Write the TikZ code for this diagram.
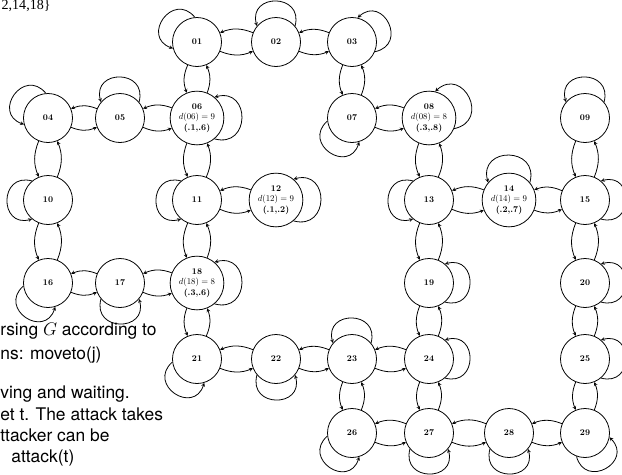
\documentclass[tikz,border=0pt]{standalone}
\usepackage{fontspec}
\newfontfamily\slidefont{TeX Gyre Heros}
\newfontfamily\setfont{Liberation Serif}

\begin{document}
\begin{tikzpicture}[
  x=0.04cm, y=-0.04cm,
  line width=0.9pt,
  >=stealth,
  state/.style={circle, draw, inner sep=3pt, minimum size=1.96cm, font=\bfseries, align=center},
  move/.style={->, bend right=22},
  stay/.style={->, looseness=2.3},
  slide/.style={anchor=base west, inner sep=0pt, font=\slidefont\fontsize{19.8}{23}\selectfont}
]
  \useasboundingbox (0,0) rectangle (622,475);

  % states
  \node[state] (01) at (197,42) {01};
  \node[state] (02) at (276,42) {02};
  \node[state] (03) at (352,42) {03};
  \node[state] (04) at (48,118) {04};
  \node[state] (05) at (120,118) {05};
  \node[state] (06) at (197,118) {06\\ $d(06) = 9$\\ (.1,.6)};
  \node[state] (07) at (352,118) {07};
  \node[state] (08) at (429,118) {08\\ $d(08) = 8$\\ (.3,.8)};
  \node[state] (09) at (585,118) {09};
  \node[state] (10) at (48,200) {10};
  \node[state] (11) at (197,200) {11};
  \node[state] (12) at (276,200) {12\\ $d(12) = 9$\\ (.1,.2)};
  \node[state] (13) at (429,200) {13};
  \node[state] (14) at (509,200) {14\\ $d(14) = 9$\\ (.2,.7)};
  \node[state] (15) at (585,200) {15};
  \node[state] (16) at (48,283) {16};
  \node[state] (17) at (120,283) {17};
  \node[state] (18) at (197,283) {18\\ $d(18) = 8$\\ (.3,.6)};
  \node[state] (19) at (429,283) {19};
  \node[state] (20) at (585,283) {20};
  \node[state] (21) at (197,359) {21};
  \node[state] (22) at (276,359) {22};
  \node[state] (23) at (352,359) {23};
  \node[state] (24) at (429,359) {24};
  \node[state] (25) at (585,359) {25};
  \node[state] (26) at (352,433) {26};
  \node[state] (27) at (429,433) {27};
  \node[state] (28) at (509,433) {28};
  \node[state] (29) at (585,433) {29};

  % moves between neighbours
  \path[move]
    (01) edge (02) edge (06)
    (02) edge (01) edge (03)
    (03) edge (02) edge (07)
    (04) edge (05) edge (10)
    (05) edge (04) edge (06)
    (06) edge (05) edge (01) edge (11)
    (07) edge (03) edge (08)
    (08) edge (07) edge (13)
    (09) edge (15)
    (10) edge (04) edge (16)
    (11) edge (06) edge (12) edge (18)
    (12) edge (11)
    (13) edge (08) edge (14) edge (19)
    (14) edge (13) edge (15)
    (15) edge (09) edge (14) edge (20)
    (16) edge (10) edge (17)
    (17) edge (16) edge (18)
    (18) edge (17) edge (11) edge (21)
    (19) edge (13) edge (24)
    (20) edge (15) edge (25)
    (21) edge (18) edge (22)
    (22) edge (21) edge (23)
    (23) edge (22) edge (24) edge (26)
    (24) edge (23) edge (19) edge (27)
    (25) edge (20) edge (29)
    (26) edge (23) edge (27)
    (27) edge (26) edge (24) edge (28)
    (28) edge (27) edge (29)
    (29) edge (28) edge (25);

  % waiting loops (node/direction)
  \foreach \n/\a [evaluate=\a as \s using int(\a-50), evaluate=\a as \e using int(\a+50),
                  evaluate=\a as \p using int(\a-15), evaluate=\a as \q using int(\a+15)] in
      {01/145, 02/90, 03/27, 04/145, 05/90, 06/0, 07/237, 08/27, 09/90, 10/180,
       11/180, 12/0, 13/180, 14/90, 15/0, 16/237, 17/270, 18/0, 19/0, 20/0,
       21/237, 22/270, 23/90, 24/0, 25/0, 26/237, 27/270, 28/270, 29/300}
    \draw[stay] (\n.\s) to[out=\p, in=\q] (\n.\e);

  % slide text around the picture
  \node[anchor=base east, inner sep=0pt, font=\setfont\fontsize{16}{18}\selectfont] (set) at (51,9) {2,14,18\}};
  \node[slide] (l1) at (0,335) {rsing $G$ according to};
  \node[slide] (l2) at (0,359) {ns: moveto(j)};
  \node[slide] (l3) at (0,398) {ving and waiting.};
  \node[slide] (l4) at (0,420) {et t. The attack takes};
  \node[slide] (l5) at (0,441) {ttacker can be};
  \node[slide] (l6) at (11,462) {attack(t)};
\end{tikzpicture}
\end{document}
